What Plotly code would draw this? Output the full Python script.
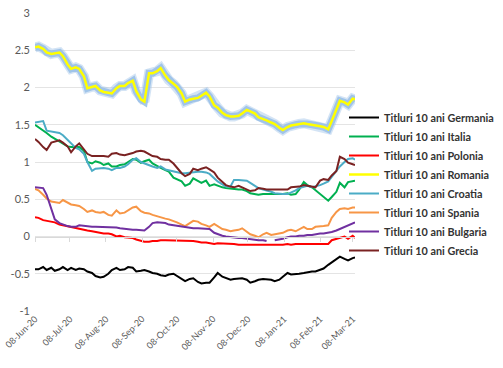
import plotly.graph_objects as go
import pandas as pd

# shared sampling dates (Mondays and Thursdays, plus the last observation)
mondays = pd.date_range("2020-06-08", "2021-03-08", freq="W-MON")
thursdays = pd.date_range("2020-06-11", "2021-03-04", freq="W-THU")
dates = sorted(list(mondays) + list(thursdays)) + [pd.Timestamp("2021-03-10")]

germania = [-0.44, -0.44, -0.41, -0.45, -0.42, -0.46, -0.44, -0.41, -0.45, -0.42,
            -0.45, -0.43, -0.44, -0.47, -0.49, -0.53, -0.55, -0.54, -0.50, -0.45,
            -0.42, -0.45, -0.44, -0.41, -0.42, -0.47, -0.46, -0.45, -0.47, -0.49,
            -0.50, -0.52, -0.53, -0.51, -0.50, -0.53, -0.58, -0.60, -0.57, -0.56,
            -0.61, -0.63, -0.62, -0.62, -0.55, -0.49, -0.54, -0.56, -0.58, -0.57,
            -0.56, -0.56, -0.58, -0.62, -0.60, -0.58, -0.57, -0.57, -0.58, -0.60,
            -0.58, -0.54, -0.49, -0.51, -0.51, -0.50, -0.49, -0.48, -0.47, -0.47,
            -0.45, -0.43, -0.38, -0.35, -0.31, -0.27, -0.30, -0.32, -0.29, -0.28]

italia = [1.50, 1.47, 1.43, 1.39, 1.34, 1.31, 1.28, 1.25, 1.21, 1.20,
          1.20, 1.20, 1.15, 1.00, 0.98, 1.01, 0.99, 0.96, 0.98, 0.94,
          0.94, 0.96, 0.97, 1.00, 1.04, 1.03, 0.99, 1.01, 1.03, 0.98,
          0.94, 0.92, 0.89, 0.87, 0.79, 0.77, 0.74, 0.68, 0.71, 0.78,
          0.74, 0.72, 0.75, 0.68, 0.70, 0.68, 0.66, 0.65, 0.64, 0.63,
          0.63, 0.63, 0.61, 0.58, 0.57, 0.56, 0.57, 0.57, 0.56, 0.56,
          0.56, 0.57, 0.58, 0.56, 0.57, 0.63, 0.73, 0.69, 0.66, 0.62,
          0.57, 0.53, 0.48, 0.53, 0.60, 0.72, 0.66, 0.73, 0.75, 0.75]

polonia = [0.26, 0.25, 0.22, 0.21, 0.19, 0.19, 0.16, 0.15, 0.13, 0.12,
           0.11, 0.10, 0.09, 0.08, 0.07, 0.06, 0.05, 0.04, 0.04, 0.03,
           0.00, 0.01, -0.01, -0.01, -0.02, -0.04, -0.06, -0.07, -0.07, -0.06,
           -0.06, -0.05, -0.05, -0.05, -0.06, -0.05, -0.05, -0.05, -0.06, -0.06,
           -0.07, -0.08, -0.08, -0.09, -0.10, -0.09, -0.09, -0.10, -0.09, -0.10,
           -0.11, -0.11, -0.11, -0.12, -0.12, -0.11, -0.12, -0.12, -0.11, -0.12,
           -0.11, -0.11, -0.10, -0.11, -0.10, -0.10, -0.10, -0.10, -0.10, -0.10,
           -0.11, -0.11, -0.10, -0.05, -0.03, -0.02, 0.00, -0.03, 0.01, -0.02]

romania = [2.54, 2.55, 2.52, 2.47, 2.45, 2.46, 2.47, 2.42, 2.31, 2.25,
           2.27, 2.25, 2.15, 1.99, 2.01, 2.02, 1.96, 1.94, 1.93, 1.92,
           1.99, 2.02, 2.02, 2.06, 2.09, 1.95, 1.84, 1.81, 2.19, 2.19,
           2.22, 2.26, 2.16, 2.10, 2.05, 2.01, 1.92, 1.81, 1.84, 1.85,
           1.86, 1.89, 1.93, 1.88, 1.76, 1.73, 1.66, 1.63, 1.61, 1.61,
           1.62, 1.65, 1.70, 1.68, 1.65, 1.60, 1.58, 1.56, 1.53, 1.51,
           1.46, 1.43, 1.47, 1.49, 1.50, 1.51, 1.52, 1.51, 1.50, 1.50,
           1.48, 1.47, 1.44, 1.55, 1.70, 1.82, 1.80, 1.77, 1.85, 1.84]

croatia = [1.53, 1.54, 1.55, 1.42, 1.41, 1.41, 1.39, 1.36, 1.30, 1.25,
           1.19, 1.17, 1.11, 1.00, 0.88, 0.91, 0.92, 0.92, 0.91, 0.89,
           0.92, 0.92, 0.94, 0.97, 1.03, 1.05, 1.00, 0.98, 0.96, 0.94,
           0.92, 0.94, 0.90, 0.89, 0.87, 0.86, 0.85, 0.85, 0.86, 0.87,
           0.87, 0.87, 0.86, 0.84, 0.78, 0.74, 0.70, 0.67, 0.67, 0.76,
           0.76, 0.76, 0.75, 0.72, 0.68, 0.65, 0.63, 0.62, 0.60, 0.58,
           0.57, 0.57, 0.57, 0.59, 0.62, 0.65, 0.67, 0.68, 0.66, 0.67,
           0.69, 0.71, 0.74, 0.80, 0.88, 0.94, 1.00, 1.04, 1.05, 1.03]

spania = [0.64, 0.62, 0.56, 0.51, 0.47, 0.46, 0.45, 0.49, 0.45, 0.43,
          0.42, 0.41, 0.37, 0.33, 0.35, 0.33, 0.32, 0.33, 0.29, 0.28,
          0.35, 0.31, 0.32, 0.35, 0.39, 0.40, 0.34, 0.32, 0.31, 0.29,
          0.27, 0.25, 0.24, 0.23, 0.21, 0.19, 0.16, 0.14, 0.18, 0.21,
          0.20, 0.17, 0.15, 0.13, 0.17, 0.14, 0.10, 0.09, 0.07, 0.08,
          0.09, 0.11, 0.07, 0.03, 0.01, -0.01, 0.03, 0.05, 0.02, 0.03,
          0.04, 0.05, 0.08, 0.09, 0.07, 0.10, 0.13, 0.10, 0.10, 0.13,
          0.13, 0.14, 0.15, 0.25, 0.33, 0.37, 0.38, 0.37, 0.39, 0.39]

bulgaria = [0.66, 0.66, 0.65, 0.56, 0.37, 0.23, 0.18, 0.16, 0.14, 0.13,
            0.13, 0.15, 0.14, 0.13, 0.13, 0.13, 0.13, 0.13, 0.13, 0.12,
            0.12, 0.11, 0.10, 0.10, 0.09, 0.09, 0.09, 0.08, 0.13, 0.18,
            0.19, 0.19, 0.18, 0.16, 0.15, 0.14, 0.13, 0.13, 0.12, 0.11,
            0.11, 0.11, 0.10, 0.10, 0.05, 0.03, 0.01, 0.00, -0.01, -0.01,
            -0.02, -0.02, -0.03, -0.04, -0.04, -0.05, -0.05, -0.06, None, -0.05,
            -0.04, -0.03, -0.01, 0.00, 0.00, 0.01, 0.01, 0.02, 0.02, 0.03,
            0.04, 0.04, 0.05, 0.06, 0.08, 0.10, 0.13, 0.15, 0.18, 0.19]

grecia = [1.31, 1.27, 1.20, 1.16, 1.26, 1.27, 1.29, 1.26, 1.21, 1.13,
          1.21, 1.25, 1.17, 1.11, 1.08, 1.08, 1.09, 1.08, 1.07, 1.11,
          1.12, 1.10, 1.09, 1.10, 1.12, 1.14, 1.15, 1.14, 1.10, 1.08,
          1.07, 1.04, 1.03, 1.03, 0.98, 0.92, 0.85, 0.81, 0.84, 0.91,
          0.89, 0.91, 0.93, 0.90, 0.86, 0.79, 0.73, 0.69, 0.67, 0.66,
          0.68, 0.66, 0.64, 0.61, 0.62, 0.65, 0.64, 0.63, 0.63, 0.63,
          0.63, 0.62, 0.63, 0.66, 0.66, 0.67, 0.69, 0.68, 0.67, 0.66,
          0.75, 0.77, 0.76, 0.82, 0.88, 1.07, 1.04, 0.99, 0.97, 0.96]

series_names = ["Titluri 10 ani Germania", "Titluri 10 ani Italia", "Titluri 10 ani Polonia",
                "Titluri 10 ani Romania", "Titluri 10 ani Croatia", "Titluri 10 ani Spania",
                "Titluri 10 ani Bulgaria", "Titluri 10 ani Grecia"]
series_values = [germania, italia, polonia, romania, croatia, spania, bulgaria, grecia]
series_colors = ["#000000", "#00B050", "#FF0000", "#FFFF00", "#4BACC6", "#F79646", "#7030A0", "#7A2222"]

x_tickvals = ["2020-06-08", "2020-07-08", "2020-08-08", "2020-09-08", "2020-10-08",
              "2020-11-08", "2020-12-08", "2021-01-08", "2021-02-08", "2021-03-08"]
x_ticktext = ["08-Jun-20", "08-Jul-20", "08-Aug-20", "08-Sep-20", "08-Oct-20",
              "08-Nov-20", "08-Dec-20", "08-Jan-21", "08-Feb-21", "08-Mar-21"]
y_tickvals = [-1, -0.5, 0, 0.5, 1, 1.5, 2, 2.5, 3]
y_ticktext = ["-1", "-0.5", "0", "0.5", "1", "1.5", "2", "2.5", "3"]

fig = go.Figure()
for name, vals, col in zip(series_names, series_values, series_colors):
    if name.endswith("Romania"):
        # soft light-blue glow under the yellow line
        fig.add_trace(go.Scatter(x=dates, y=vals, mode="lines", showlegend=False, hoverinfo="skip",
                                 line=dict(color="rgba(160,196,232,0.45)", width=10)))
        fig.add_trace(go.Scatter(x=dates, y=vals, mode="lines", showlegend=False, hoverinfo="skip",
                                 line=dict(color="rgba(150,190,230,0.85)", width=7)))
        fig.add_trace(go.Scatter(x=dates, y=vals, mode="lines", name=name,
                                 line=dict(color=col, width=2.5)))
    else:
        fig.add_trace(go.Scatter(x=dates, y=vals, mode="lines", name=name,
                                 line=dict(color=col, width=2), connectgaps=False))

W, H = 503, 368
fig.update_layout(
    width=W, height=H,
    margin=dict(l=35, r=148, t=13, b=57, autoexpand=False),
    paper_bgcolor="white", plot_bgcolor="white",
    font=dict(family="Lato", color="#595959"),
    showlegend=True,
    legend=dict(xref="container", yref="container", x=344 / W, xanchor="left",
                y=1 - 103 / H, yanchor="top",
                font=dict(family="Lato", size=10.8, color="#333333", weight="bold"),
                bgcolor="rgba(0,0,0,0)", borderwidth=0, tracegroupgap=0),
    xaxis=dict(type="date", range=["2020-06-08", "2021-03-10"],
               tickvals=x_tickvals, ticktext=x_ticktext, tickangle=-45,
               tickfont=dict(size=9, color="#595959"), ticklabeloverflow="allow",
               showgrid=False, zeroline=False, showline=False, ticks=""),
    xaxis2=dict(type="date", range=["2020-06-08", "2021-03-10"], overlaying="x",
                anchor="free", position=0.25, tickvals=x_tickvals, showticklabels=False,
                ticks="outside", ticklen=4, tickcolor="#D9D9D9", showline=True,
                linecolor="#D9D9D9", linewidth=1, showgrid=False, zeroline=False),
    yaxis=dict(range=[-1, 3], tickvals=y_tickvals, ticktext=y_ticktext,
               tickfont=dict(size=11, color="#595959"), ticklabeloverflow="allow",
               showgrid=True, gridcolor="#E4E4E4", gridwidth=1,
               zeroline=False, showline=False, ticks="", ticklabelstandoff=4),
)
fig.add_trace(go.Scatter(x=[], y=[], xaxis="x2", showlegend=False, hoverinfo="skip"))

# remove the default 8px page margin so the figure sits at the window's corner
fig.write_html("out.html", config={"displayModeBar": False},
               post_script="document.body.style.margin='0';")
